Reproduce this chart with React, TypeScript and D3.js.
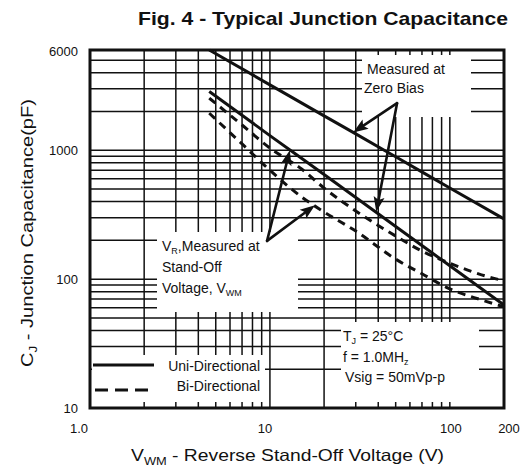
import React from 'react';
import * as d3 from 'd3';

const W = 528;
const H = 468;

// reverse stand-off voltage (V) / junction capacitance (pF)
const zeroBiasV = [4.6, 10, 20, 30, 50, 100, 200];
const zeroBiasC = [6000, 3220, 1850, 1340, 890, 510, 293];

const uniV = [4.6, 10, 20, 30, 50, 100, 200];
const uniC = [2860, 1300, 648, 430, 256, 127, 63];

const biUpperV = [4.6, 7, 10, 15, 20, 30, 50, 70, 100, 150, 200];
const biUpperC = [2540, 1570, 1040, 715, 509, 338, 216, 165, 133, 108, 97];

const biLowerV = [4.6, 7, 10, 15, 20, 30, 50, 70, 100, 150, 200];
const biLowerC = [1940, 1120, 700, 434, 332, 236, 143, 110, 84, 69, 61];

const xGrid = [2, 3, 4, 5, 6, 7, 8, 9, 10, 20, 30, 40, 50, 60, 70, 80, 90, 100];
const yGrid = [20, 30, 40, 50, 60, 70, 80, 90, 100, 200, 300, 400, 500, 600, 700, 800, 900, 1000, 2000, 3000, 4000, 5000];

const xTicks = [1, 10, 100, 200];
const xTickLabels = ['1.0', '10', '100', '200'];
const yTicks = [10, 100, 1000, 6000];
const yTickLabels = ['10', '100', '1000', '6000'];

// annotation arrows: [V, C] of the tail, then the tips
const zeroBiasTail = [50.9, 2320];
const zeroBiasTips = [[29, 1375], [39, 333]];
const standOffTail = [9.64, 198];
const standOffTips = [[12.9, 1000], [17.8, 375]];

const FONT = '"Liberation Sans", Arial, Helvetica, sans-serif';
const INK = '#111';

const x = d3.scaleLog().domain([1, 200]).range([90, 504]);
const y = d3.scaleLog().domain([10, 6000]).range([408, 50]);

const line = d3
  .line<[number, number]>()
  .x(d => x(d[0]))
  .y(d => y(d[1]))
  .curve(d3.curveMonotoneX);

const zip = (vs: number[], cs: number[]) => vs.map((v, i) => [v, cs[i]] as [number, number]);

// white boxes behind the notes, cutting the grid as in the datasheet
const masks = [
  { x: 362, y: 55, w: 109, h: 62 },
  { x: 157, y: 232, w: 141, h: 80 },
  { x: 341, y: 322, w: 138, h: 80 },
  { x: 92, y: 355, w: 173, h: 47 },
];

function Arrow({ tail, tip }: { tail: number[]; tip: number[] }) {
  const x0 = x(tail[0]);
  const y0 = y(tail[1]);
  const x1 = x(tip[0]);
  const y1 = y(tip[1]);
  const len = Math.hypot(x1 - x0, y1 - y0);
  const ux = (x1 - x0) / len;
  const uy = (y1 - y0) / len;
  const hl = 15;
  const hw = 5.5;
  const bx = x1 - ux * hl;
  const by = y1 - uy * hl;
  const pts = [
    [x1, y1],
    [bx - uy * hw, by + ux * hw],
    [bx + ux * 3, by + uy * 3],
    [bx + uy * hw, by - ux * hw],
  ];
  return (
    <g>
      <line x1={x0} y1={y0} x2={bx + ux * 4} y2={by + uy * 4} stroke={INK} strokeWidth={2.6} strokeLinecap="round" />
      <polygon points={pts.map(p => p.join(',')).join(' ')} fill={INK} />
    </g>
  );
}

export default function App() {
  const [xl, xr] = x.range();
  const [yb, yt] = y.range();
  return (
    <svg
      width={W}
      height={H}
      viewBox={`0 0 ${W} ${H}`}
      style={{ position: 'absolute', left: 0, top: 0, background: '#fff' }}
      fontFamily={FONT}
    >
      <rect width={W} height={H} fill="#fff" />

      {/* grid */}
      <g stroke={INK} strokeWidth={1.5}>
        {xGrid.map(v => (
          <line key={'gx' + v} x1={x(v)} x2={x(v)} y1={yt} y2={yb} />
        ))}
        {yGrid.map(v => (
          <line key={'gy' + v} x1={xl} x2={xr} y1={y(v)} y2={y(v)} />
        ))}
      </g>
      {masks.map((m, i) => (
        <rect key={'m' + i} x={m.x} y={m.y} width={m.w} height={m.h} fill="#fff" />
      ))}
      <rect x={xl} y={yt} width={xr - xl} height={yb - yt} fill="none" stroke={INK} strokeWidth={3} />

      {/* curves */}
      <g fill="none" stroke={INK} strokeWidth={3}>
        <path d={line(zip(zeroBiasV, zeroBiasC)) || ''} />
        <path d={line(zip(uniV, uniC)) || ''} />
        <path d={line(zip(biUpperV, biUpperC)) || ''} strokeDasharray="8 6" />
        <path d={line(zip(biLowerV, biLowerC)) || ''} strokeDasharray="8 6" />
      </g>

      {zeroBiasTips.map((t, i) => (
        <Arrow key={'za' + i} tail={zeroBiasTail} tip={t} />
      ))}
      {standOffTips.map((t, i) => (
        <Arrow key={'sa' + i} tail={standOffTail} tip={t} />
      ))}

      {/* axes labels */}
      <g fontSize={13} fill={INK}>
        {yTicks.map((v, i) => (
          <text key={'yt' + v} x={78} y={y(v) + 4.6 + (v === 6000 ? 1.5 : 0)} textAnchor="end">
            {yTickLabels[i]}
          </text>
        ))}
        {xTicks.map((v, i) => (
          <text key={'xt' + v} x={x(v) + (v === 1 ? -11 : v === 10 ? -5 : v === 200 ? 5 : 1)} y={433} textAnchor="middle">
            {xTickLabels[i]}
          </text>
        ))}
      </g>

      <text x={138} y={25} fontSize={19} fontWeight="bold" fill={INK} textLength={370} lengthAdjust="spacingAndGlyphs">
        Fig. 4 - Typical Junction Capacitance
      </text>
      <text x={131} y={461} fontSize={16.5} fill={INK} textLength={313} lengthAdjust="spacingAndGlyphs">
        V<tspan fontSize={11} dy={4}>WM</tspan>
        <tspan dy={-4}> - Reverse Stand-Off Voltage (V)</tspan>
      </text>
      <text
        transform="translate(33,233) rotate(-90)"
        textAnchor="middle"
        fontSize={16.5}
        fill={INK}
        textLength={268}
        lengthAdjust="spacingAndGlyphs"
      >
        C<tspan fontSize={11} dy={4}>J</tspan>
        <tspan dy={-4}> - Junction Capacitance(pF)</tspan>
      </text>

      {/* notes */}
      <g fontSize={14} fill={INK}>
        <text x={367} y={74}>Measured at</text>
        <text x={364} y={93}>Zero Bias</text>

        <text x={162} y={251}>
          V<tspan fontSize={9} dy={3}>R</tspan>
          <tspan dy={-3}>,Measured at</tspan>
        </text>
        <text x={162} y={272}>Stand-Off</text>
        <text x={162} y={293}>
          Voltage, V<tspan fontSize={9} dy={3}>WM</tspan>
        </text>

        <text x={343} y={341}>
          T<tspan fontSize={9} dy={3}>J</tspan>
          <tspan dy={-3}> = 25°C</tspan>
        </text>
        <text x={343} y={361.5}>
          f = 1.0MH<tspan fontSize={9} dy={3}>z</tspan>
        </text>
        <text x={345} y={382}>Vsig = 50mVp-p</text>

        <text x={260} y={371} textAnchor="end">Uni-Directional</text>
        <text x={260} y={391} textAnchor="end">Bi-Directional</text>
      </g>
      <line x1={93} x2={154} y1={365} y2={365} stroke={INK} strokeWidth={3} />
      <line x1={95} x2={154} y1={390} y2={390} stroke={INK} strokeWidth={3} strokeDasharray="13 7" />
    </svg>
  );
}
